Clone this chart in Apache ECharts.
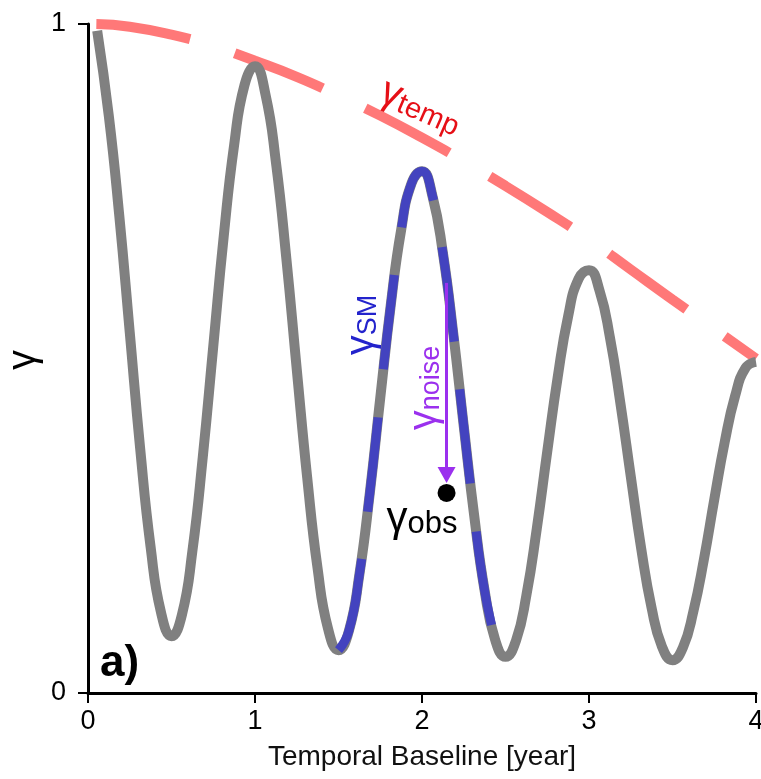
<!DOCTYPE html>
<html>
<head>
<meta charset="utf-8">
<script src="https://cdn.jsdelivr.net/npm/echarts@6/dist/echarts.min.js"></script>
<style>
html,body{margin:0;padding:0;background:#fff;}
#chart{width:761px;height:779px;}
</style>
</head>
<body>
<div id="chart"></div>
<script>
// ---- data ----
const years = [0.055,0.125,0.1875,0.25,0.3125,0.375,0.4375,0.5,
  0.5625,0.625,0.6875,0.75,0.8125,0.875,0.9375,1,
  1.0625,1.125,1.1875,1.25,1.3125,1.375,1.4375,1.5,
  1.5625,1.625,1.6875,1.75,1.8125,1.875,1.9375,2,
  2.0625,2.125,2.1875,2.25,2.3125,2.375,2.4375,2.5,
  2.5625,2.625,2.6875,2.75,2.8125,2.875,2.9375,3,
  3.0625,3.125,3.1875,3.25,3.3125,3.375,3.4375,3.5,
  3.5625,3.625,3.6875,3.75,3.8125,3.875,3.9375,4];
const gammaCurve = [0.99,0.862,0.713,0.539,0.365,0.218,0.120,0.085,
  0.117,0.212,0.353,0.518,0.682,0.819,0.909,0.937,
  0.895,0.794,0.650,0.484,0.322,0.186,0.096,0.064,
  0.093,0.177,0.299,0.441,0.579,0.692,0.762,0.780,
  0.743,0.658,0.537,0.399,0.265,0.153,0.080,0.054,
  0.078,0.146,0.246,0.361,0.472,0.563,0.619,0.632,
  0.602,0.532,0.434,0.324,0.216,0.127,0.069,0.049,
  0.068,0.122,0.199,0.289,0.375,0.444,0.486,0.495];
const smStart = 1.5;      // gamma_SM highlighted span (years)
const smEnd = 2.4375;
const tempYears = [0.05,0.25,0.5,0.75,1,1.25,1.5,1.75,2,2.25,2.5,2.75,3,3.25,3.5,3.75,4];
const gammaTemp = [1.0,0.996,0.984,0.967,0.945,0.921,0.893,0.863,0.830,0.795,0.758,0.719,0.678,0.633,0.588,0.544,0.500];
const obsPoint = [2.147, 0.299];
const noiseFrom = [2.147, 0.613];
const noiseTo = [2.147, 0.326];
const xTicks = [0, 1, 2, 3, 4];
const yTicks = [0, 1];

// ---- build ----
const FONT = '"Liberation Sans", Arial, Helvetica, sans-serif';
const curve = years.map((x, i) => [x, gammaCurve[i]]);
const smCurve = curve.filter(p => p[0] >= smStart - 1e-9 && p[0] <= smEnd + 1e-9);
const tempCurve = tempYears.map((x, i) => [x, gammaTemp[i]]);

function gammaLabel(x, y, rot, sub, color, gSize, sSize, gLH, sLH) {
  return {type: 'text', x: x, y: y, rotation: rot, z: 10,
    style: {text: '{g|γ}{s|' + sub + '}', align: 'center', verticalAlign: 'middle', fill: color, fontFamily: FONT,
      rich: {g: {fontSize: gSize, lineHeight: gLH, verticalAlign: 'bottom', fill: color, fontFamily: FONT},
             s: {fontSize: sSize, lineHeight: sLH, verticalAlign: 'bottom', fill: color, fontFamily: FONT}}}};
}

const chart = echarts.init(document.getElementById('chart'), null, {renderer: 'canvas'});
const option = {
  animation: false,
  backgroundColor: '#fff',
  textStyle: {fontFamily: FONT},
  grid: {left: 88, right: 5, top: 24, bottom: 86, containLabel: false, outerBoundsMode: 'none'},
  xAxis: {
    type: 'value', min: xTicks[0], max: xTicks[xTicks.length - 1], interval: 1,
    axisLine: {onZero: false, lineStyle: {color: '#000', width: 3}},
    axisTick: {length: 10, lineStyle: {color: '#000', width: 2}},
    axisLabel: {fontSize: 27, color: '#000', margin: 15, fontFamily: FONT},
    splitLine: {show: false},
    name: 'Temporal Baseline [year]', nameLocation: 'middle', nameGap: 50,
    nameTextStyle: {fontSize: 28, color: '#111', fontFamily: FONT}
  },
  yAxis: {
    type: 'value', min: yTicks[0], max: yTicks[yTicks.length - 1], interval: 1,
    axisLine: {show: true, onZero: false, lineStyle: {color: '#000', width: 3}},
    axisTick: {show: true, length: 10, lineStyle: {color: '#000', width: 2}},
    axisLabel: {fontSize: 27, color: '#000', margin: 22, fontFamily: FONT},
    splitLine: {show: false}
  },
  series: [
    {
      type: 'line', data: tempCurve, smooth: true, showSymbol: false, z: 1,
      lineStyle: {color: '#ff7878', width: 10, type: [95, 47], cap: 'butt'}
    },
    {
      type: 'line', data: curve, smooth: true, showSymbol: false, z: 2,
      lineStyle: {color: '#808080', width: 10, cap: 'butt'}
    },
    {
      type: 'line', data: smCurve, smooth: true, showSymbol: false, z: 3,
      lineStyle: {color: '#4343bf', width: 9, type: [95, 48], cap: 'butt'}
    },
    {
      type: 'scatter', data: [obsPoint], symbolSize: 18, z: 5,
      itemStyle: {color: '#000', opacity: 1},
      markLine: {
        silent: true, symbol: ['none', 'triangle'], symbolSize: [18, 16],
        label: {show: false},
        lineStyle: {color: '#9b30ee', width: 3, type: 'solid', opacity: 1},
        data: [[{coord: noiseFrom}, {coord: noiseTo}]]
      }
    }
  ],
  graphic: [
    {type: 'text', x: 24, y: 360, rotation: Math.PI / 2, z: 10,
      style: {text: 'γ', align: 'center', verticalAlign: 'middle', fill: '#000', fontSize: 40, fontFamily: FONT}},
    gammaLabel(426, 95, -0.41, 'temp', '#e60f16', 40, 29, 66, 30),
    gammaLabel(350, 325, Math.PI / 2, 'SM', '#2323cc', 40, 27, 64, 28),
    gammaLabel(415, 388, Math.PI / 2, 'noise', '#9b30ee', 40, 27, 60, 28),
    gammaLabel(422, 505, 0, 'obs', '#000', 42, 31, 70, 30),
    {type: 'text', x: 100, y: 664, z: 10,
      style: {text: 'a)', align: 'left', verticalAlign: 'middle', fill: '#000',
        fontSize: 44, fontWeight: 'bold', fontFamily: FONT}}
  ]
};
chart.setOption(option);
</script>
</body>
</html>
